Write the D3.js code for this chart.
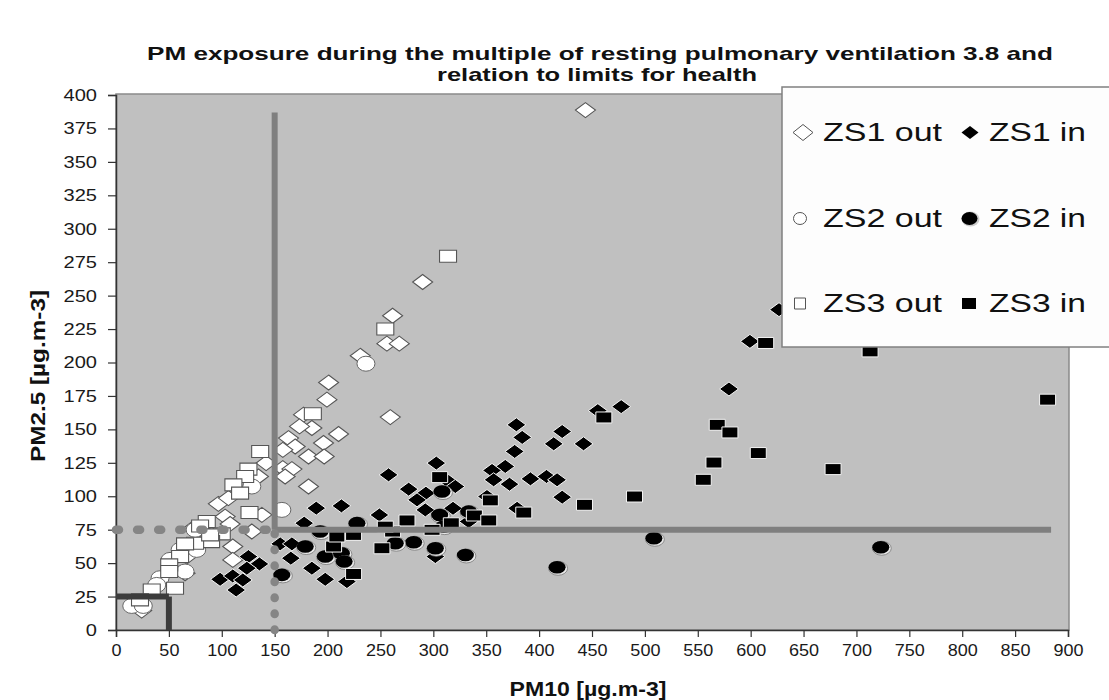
<!DOCTYPE html>
<html><head><meta charset="utf-8">
<script src="https://cdn.jsdelivr.net/npm/d3@7"></script>
<style>body{margin:0;background:#fff}svg{display:block}text{font-family:"Liberation Sans",Arial,sans-serif}</style>
</head><body><svg id="c" width="1109" height="700"></svg>
<script>
// ---- data: [PM10, PM2.5] ----
const zs1Out = [[443.8,388.7],[289.9,260.2],[261.5,235],[256.1,214.1],[267.8,214.1],[230.9,205],[201,185],[199.4,172.2],[259.3,159.2],[177.3,161],[185.2,151],[173.5,152.2],[210.4,146.5],[163.1,143.5],[196.2,139.8],[169.4,137.2],[157.7,134.7],[182,129.7],[196.8,129.7],[141.9,124.8],[157.7,121],[166.3,120.3],[159.9,114.8],[182,107.3],[134.7,114.8],[96.8,94.3],[106.3,98.6],[137.9,86.1],[103.2,84.8],[107.9,79.3],[128.4,73.6],[110.4,62.4],[110.4,52.4],[66.9,54.9],[65.3,42.4],[24.3,14.5],[73.1,76.1],[82.6,73.6]];
const zs1In = [[378.5,153.4],[384,144],[421.8,148.4],[413.8,139.2],[442,139.2],[455.5,164],[477.6,167],[376.9,133.5],[368,122.3],[355.5,119.3],[357,112.3],[372,109],[391.8,113],[407,114.8],[417,112.3],[421.8,99.3],[379.2,91],[302.8,124.8],[257.7,116],[276.7,105.3],[293,102.3],[284.6,97.3],[292.4,89.8],[318.6,91],[314.5,111],[320.8,107.3],[333.4,81.1],[249,86],[301.9,54.9],[350.7,99.8],[599.3,215.8],[626.8,239.5],[579.5,180.2],[189.3,91.1],[213.1,92.8],[177.9,79.9],[155.2,64.4],[166.3,64.4],[165.3,53.7],[185.2,46.2],[197.8,37.9],[218.3,36.2],[125.2,54.9],[135.6,49.4],[123.7,46.2],[98.4,37.9],[110.4,40.4],[119.9,37.4],[113.6,29.9]];
const zs2Out = [[236.3,199.1],[128.4,107.3],[156.8,89.8],[76.3,59.9],[65.3,43.7],[51.1,52.4],[41.6,38.7],[38.5,33.7],[14.9,18],[25.8,18],[74.8,74.9],[60.6,59.9]];
const zs2In = [[308.2,103.5],[306,86],[333.4,88.5],[281.4,65.6],[264,64.9],[301.9,61.1],[330.3,56.1],[417,46.9],[508.5,68.6],[309.8,77.3],[723,61.9],[178.9,62.4],[197.8,54.9],[213.1,57.4],[215.7,51.2],[156.8,41.2],[193,73.6],[227.8,79.9]];
const zs3Out = [[313.9,279.4],[254.6,225.1],[186.1,161.7],[136.3,133.5],[125.2,120.3],[122.1,114.8],[111,108.5],[117.3,102.3],[126.2,87.8],[85.8,81.1],[79.5,77.8],[100,71.9],[89.9,66.1],[74.8,64.9],[65.3,64.4],[60.6,54.9],[50.3,48.7],[50.3,43.7],[55.8,31.2],[33.8,29.9],[22.7,22.5],[89,71.1]];
const zs3In = [[461.2,158.9],[306,114.3],[353.9,96.9],[385.5,87.8],[442.9,93.6],[490.2,99.8],[275.1,81.9],[338.8,85.6],[352.4,81.9],[317,79.8],[298.8,74.9],[261.5,73.6],[251.4,61.1],[614.2,214.6],[712.9,208.3],[568.4,153.4],[580.4,147.7],[607.2,132.3],[565.3,125.2],[555.2,112.3],[677.9,120.3],[880.7,172.2],[205.7,62.4],[224.6,41.9],[208.8,69.9],[224.6,71.1],[254.6,77.3]];
// limit lines [x1,y1,x2,y2] in data units
const limitSolid = [[150,75,150,387],[150,75,884,75]];
const limitDotted = [[0,75,150,75],[150,0,150,75]];
const limitDark = [[50,0,50,25],[0,25,50,25]];
const xTicks = [0,50,100,150,200,250,300,350,400,450,500,550,600,650,700,750,800,850,900];
const yTicks = [0,25,50,75,100,125,150,175,200,225,250,275,300,325,350,375,400];
const titleLines = ["PM exposure during the multiple of resting pulmonary ventilation 3.8 and","relation to limits for health"];
const legendRows = [["ZS1 out","ZS1 in"],["ZS2 out","ZS2 in"],["ZS3 out","ZS3 in"]];

const svg = d3.select('#c');
const x = d3.scaleLinear().domain([0,900]).range([116,1068]);
const y = d3.scaleLinear().domain([0,400]).range([630,95]);

function stretch(sel, f){ sel.each(function(){ const l=this.getComputedTextLength(); this.setAttribute('textLength', l*f); this.setAttribute('lengthAdjust','spacingAndGlyphs'); }); }

// plot background
svg.append('rect').attr('x',116).attr('y',94).attr('width',953).attr('height',536)
  .attr('fill','#c0c0c0').attr('stroke','#8a8a8a').attr('stroke-width',1.5);

// axes
const ya = svg.append('g').attr('transform','translate(116,0)')
  .call(d3.axisLeft(y).tickValues(yTicks).tickSize(8).tickPadding(11).tickFormat(d3.format('d')));
const xa = svg.append('g').attr('transform','translate(0,630)')
  .call(d3.axisBottom(x).tickValues(xTicks).tickSize(7).tickPadding(7).tickFormat(d3.format('d')));
[ya,xa].forEach(a=>{
  a.select('.domain').attr('stroke','#333').attr('stroke-width',1.5);
  a.selectAll('.tick line').attr('stroke','#333').attr('stroke-width',1.2);
  a.selectAll('text').attr('font-size',17).attr('fill','#1a1a1a').attr('font-family','"Liberation Sans",Arial,sans-serif');
});
stretch(ya.selectAll('text'),1.18);
stretch(xa.selectAll('text'),1.06);

// marker shapes
function diamond(hw,hh){ return `M0,${-hh}L${hw},0L0,${hh}L${-hw},0Z`; }
function rectP(hw,hh){ return `M${-hw},${-hh}H${hw}V${hh}H${-hw}Z`; }
const pg = svg.append('g');
function drawSeries(data, kind, filled){
  const g = pg.append('g');
  const sel = g.selectAll('g').data(data).join('g').attr('transform',d=>`translate(${x(d[0])},${y(d[1])})`);
  if(kind==='circle'){
    if(filled){
      sel.append('ellipse').attr('cx',1).attr('cy',1).attr('rx',9.5).attr('ry',7).attr('fill','#e8e8e8').attr('stroke','#777').attr('stroke-width',0.8);
      sel.append('ellipse').attr('rx',8.5).attr('ry',6.3).attr('fill','#000');
    } else {
      sel.append('ellipse').attr('rx',9).attr('ry',7.5).attr('fill','#fff').attr('stroke','#666').attr('stroke-width',1);
    }
  } else {
    const p = kind==='diamond' ? (filled?diamond(9.5,7):diamond(10,7.5)) : (filled?rectP(8,5.5):rectP(8.5,6));
    sel.append('path').attr('d',p).attr('fill',filled?'#000':'#fff')
      .attr('stroke',filled?'#f4f4f4':'#555').attr('stroke-width',filled?1:1.1);
  }
}
drawSeries(zs1Out,'diamond',false);
drawSeries(zs1In,'diamond',true);
drawSeries(zs2Out,'circle',false);
drawSeries(zs2In,'circle',true);
drawSeries(zs3Out,'square',false);
drawSeries(zs3In,'square',true);

// limit lines (on top of points)
const lg = svg.append('g');
lg.selectAll('.s').data(limitSolid).join('line').attr('class','s')
  .attr('x1',d=>x(d[0])).attr('y1',d=>y(d[1])).attr('x2',d=>x(d[2])).attr('y2',d=>y(d[3]))
  .attr('stroke','#7f7f7f').attr('stroke-width',6).attr('stroke-linecap','butt');
lg.selectAll('.dh').data(limitDotted).join('line').attr('class','dh')
  .attr('x1',d=>x(d[0])).attr('y1',d=>y(d[1])).attr('x2',d=>x(d[2])).attr('y2',d=>y(d[3]))
  .attr('stroke','#858585').attr('stroke-width',8.5).attr('stroke-linecap','round')
  .attr('stroke-dasharray',(d,i)=> i===0 ? '3 18.1' : '0.5 15.5');
lg.selectAll('.dk').data(limitDark).join('line').attr('class','dk')
  .attr('x1',d=>x(d[0])).attr('y1',d=>y(d[1])).attr('x2',d=>x(d[2])).attr('y2',d=>y(d[3]))
  .attr('stroke','#3c3c3c').attr('stroke-width',6);

// title
const tt = svg.append('g');
tt.append('text').attr('x',600).attr('y',60).attr('text-anchor','middle').attr('font-size',19).attr('font-weight','bold').attr('fill','#111')
  .attr('textLength',906).attr('lengthAdjust','spacingAndGlyphs').text(titleLines[0]);
tt.append('text').attr('x',597).attr('y',81).attr('text-anchor','middle').attr('font-size',19).attr('font-weight','bold').attr('fill','#111')
  .attr('textLength',320).attr('lengthAdjust','spacingAndGlyphs').text(titleLines[1]);

// axis titles
svg.append('text').attr('x',588).attr('y',696).attr('text-anchor','middle').attr('font-size',20).attr('font-weight','bold').attr('fill','#111')
  .attr('textLength',157).attr('lengthAdjust','spacingAndGlyphs').text('PM10 [µg.m-3]');
svg.append('text').attr('transform','translate(45,376) rotate(-90)').attr('text-anchor','middle').attr('font-size',20).attr('font-weight','bold').attr('fill','#111')
  .attr('textLength',172).attr('lengthAdjust','spacingAndGlyphs').text('PM2.5 [µg.m-3]');

// legend
const leg = svg.append('g');
leg.append('rect').attr('x',782).attr('y',87).attr('width',340).attr('height',260).attr('fill','#fdfdfd').attr('stroke','#808080').attr('stroke-width',1.5);
const baselines = [141,227,312];
const kinds = ['diamond','circle','square'];
legendRows.forEach((row,i)=>{
  const by = baselines[i], cy = by-8.5;
  const k = kinds[i];
  // open marker
  if(k==='diamond') leg.append('path').attr('d',diamond(10,8)).attr('transform',`translate(803,${cy})`).attr('fill','#fff').attr('stroke','#555');
  if(k==='circle') leg.append('ellipse').attr('cx',800).attr('cy',cy).attr('rx',6.5).attr('ry',6).attr('fill','#fff').attr('stroke','#555');
  if(k==='square') leg.append('path').attr('d',rectP(5.5,5.5)).attr('transform',`translate(800,${cy})`).attr('fill','#fff').attr('stroke','#555');
  // filled marker
  if(k==='diamond') leg.append('path').attr('d',diamond(8.5,6.5)).attr('transform',`translate(970,${cy})`).attr('fill','#000');
  if(k==='circle'){ leg.append('ellipse').attr('cx',970.5).attr('cy',cy+0.5).attr('rx',9).attr('ry',7.5).attr('fill','#ccc');
                    leg.append('ellipse').attr('cx',969.5).attr('cy',cy).attr('rx',8).attr('ry',6.5).attr('fill','#000'); }
  if(k==='square') leg.append('path').attr('d',rectP(7,5.5)).attr('transform',`translate(969,${cy})`).attr('fill','#000');
  leg.append('text').attr('x',823).attr('y',by).attr('font-size',26).attr('fill','#111').attr('textLength',119).attr('lengthAdjust','spacingAndGlyphs').text(row[0]);
  leg.append('text').attr('x',989).attr('y',by).attr('font-size',26).attr('fill','#111').attr('textLength',97).attr('lengthAdjust','spacingAndGlyphs').text(row[1]);
});
</script></body></html>
